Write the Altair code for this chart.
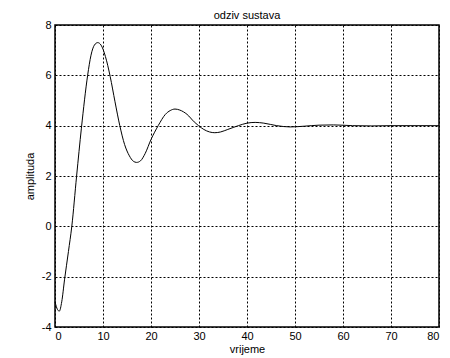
import altair as alt
import pandas as pd

# step response
t_vals = [0, 0.5, 0.9, 1.4, 2.0, 2.8, 3.5, 4.5, 5.5, 6.8, 7.5, 8.2, 8.9, 9.6, 10.5,
          11.5, 12.5, 13.5, 14.5, 15.5, 16.3, 17.0, 17.8, 18.8, 20.0, 21.5, 23.0,
          24.0, 25.0, 26.0, 27.5, 29.0, 29.9, 31.0, 32.2, 33.3, 34.5, 36.0, 38.2,
          40.0, 41.7, 43.5, 46.2, 49.0, 52.0, 55.0, 58.0, 62.0, 66.0, 70.0, 75.0, 80.0]
y_vals = [-3.0, -3.3, -3.37, -3.0, -2.1, -1.0, 0.0, 2.0, 3.9, 6.0, 6.8, 7.2, 7.3, 7.2, 6.75,
          5.95, 4.95, 4.0, 3.25, 2.8, 2.59, 2.54, 2.6, 2.9, 3.45, 4.0, 4.45,
          4.6, 4.66, 4.62, 4.45, 4.15, 4.0, 3.85, 3.75, 3.72, 3.75, 3.85, 4.0,
          4.1, 4.13, 4.1, 4.0, 3.95, 3.98, 4.02, 4.03, 4.0, 3.99, 4.0, 4.0, 4.0]
x_ticks = [0, 10, 20, 30, 40, 50, 60, 70, 80]
y_ticks = [-4, -2, 0, 2, 4, 6, 8]

df = pd.DataFrame({"t": t_vals, "y": y_vals})

FONT = "Liberation Sans"

chart = alt.Chart(df).mark_line(color="black", strokeWidth=1, interpolate="monotone").encode(
    x=alt.X("t:Q", scale=alt.Scale(domain=[0, 80], nice=False, zero=False),
            axis=alt.Axis(values=x_ticks, title="vrijeme", grid=True, tickSize=0,
                          labelExpr="datum.value + ''",
                          labelPadding=3, titlePadding=2, domain=False)),
    y=alt.Y("y:Q", scale=alt.Scale(domain=[-4, 8], nice=False, zero=False),
            axis=alt.Axis(values=y_ticks, title="amplituda", grid=True, tickSize=0,
                          labelExpr="datum.value + ''",
                          labelPadding=4, titlePadding=6, domain=False)),
).properties(
    width=384, height=302,
    title=alt.TitleParams("odziv sustava", fontSize=11, font=FONT, fontWeight="normal",
                          color="black", offset=6, frame="group", dy=8),
    autosize=alt.AutoSizeParams(type="none"),
    padding={"left": 47, "top": 17, "right": 3, "bottom": 30},
).configure_view(
    stroke="black", strokeWidth=1.5
).configure_axis(
    labelFont=FONT, titleFont=FONT, labelFontSize=11, titleFontSize=11,
    labelColor="black", titleColor="black", titleFontWeight="normal",
    gridColor="black", gridOpacity=1, gridDash=[2, 2], gridWidth=1,
)

chart.save("out.html", embed_options={"renderer": "svg", "actions": False})
